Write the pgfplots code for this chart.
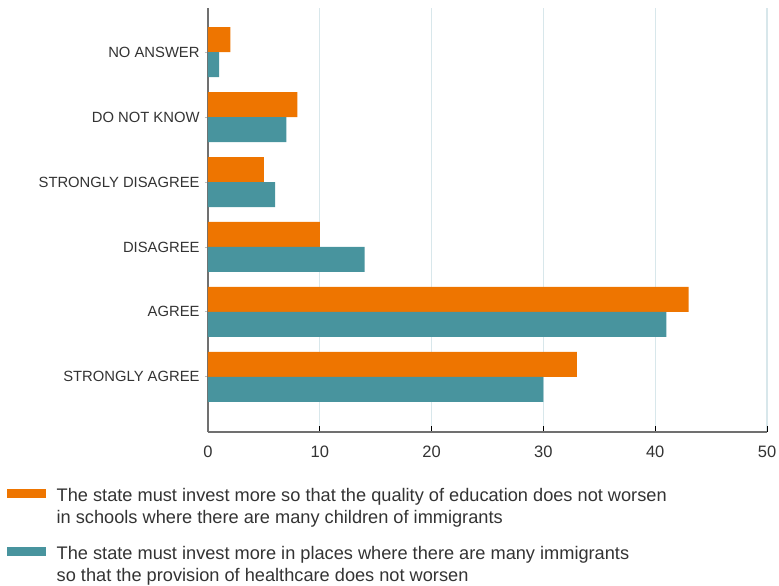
\documentclass[border=0pt]{standalone}
\usepackage{pgfplots}
\pgfplotsset{compat=1.18}
\usepackage{fontspec}
\setmainfont{Liberation Sans}
\usetikzlibrary{calc}
\definecolor{orng}{HTML}{EE7500}
\definecolor{tealc}{HTML}{48949E}
\definecolor{gridc}{HTML}{D8E7EB}
\definecolor{axc}{HTML}{707070}
\definecolor{txt}{HTML}{333333}
\begin{document}
\begin{tikzpicture}
\begin{axis}[
  scale only axis, width=559bp, height=424bp,
  xmin=0, xmax=50, ymin=-0.85, ymax=5.68,
  xtick={0,10,20,30,40,50},
  ytick={0,1,2,3,4,5},
  yticklabels={STRONGLY AGREE,AGREE,DISAGREE,STRONGLY DISAGREE,DO NOT KNOW,NO ANSWER},
  axis x line*=bottom, axis y line*=left,
  x axis line style={axc, line width=1.2bp},
  y axis line style={axc, line width=1.6bp},
  xmajorgrids, major x grid style={gridc, line width=1.2bp},
  x tick style={black, line width=0.9bp, /pgfplots/major tick length=6bp},
  y tick style={gray!50, line width=0.8bp, /pgfplots/major tick length=3bp},
  xtick align=inside, ytick align=outside,
  /pgf/number format/assume math mode=true,
  xticklabel style={font=\fontsize{16.5bp}{18bp}\selectfont, text=txt, inner sep=0pt, anchor=north, yshift=-14bp},
  yticklabel style={font=\fontsize{14.8bp}{16bp}\selectfont, text=txt, inner sep=0pt, anchor=east, xshift=-4bp},
  legend style={at={(rel axis cs:0,0)}, anchor=north west, xshift=-201bp, yshift=-56bp,
    draw=none, fill=none, font=\fontsize{18.2bp}{22.3bp}\selectfont, text=txt,
    inner sep=0pt, row sep=43bp, nodes={inner sep=0pt},
    /tikz/every odd column/.append style={column sep=11bp}},
  legend cell align=left,
  legend image code/.code={\fill[#1] (0bp,-2.6bp) rectangle (38.5bp,6.4bp);},
]
\addplot[xbar, fill=orng, draw=none, bar width=25bp, bar shift=12.5bp]
  coordinates {(33,0) (43,1) (10,2) (5,3) (8,4) (2,5)};
\addplot[xbar, fill=tealc, draw=none, bar width=25bp, bar shift=-12.5bp]
  coordinates {(30,0) (41,1) (14,2) (6,3) (7,4) (1,5)};
\addlegendentry{\parbox[t]{700bp}{The state must invest more so that the quality of education does not worsen\\in schools where there are many children of immigrants}}
\addlegendentry{\parbox[t]{700bp}{The state must invest more in places where there are many immigrants\\so that the provision of healthcare does not worsen}}
\coordinate (SW) at (rel axis cs:0,0);
\end{axis}
\pgfresetboundingbox
\path[use as bounding box] ($(SW)+(-208bp,-154bp)$) rectangle ($(SW)+(571bp,432bp)$);
\end{tikzpicture}
\end{document}
